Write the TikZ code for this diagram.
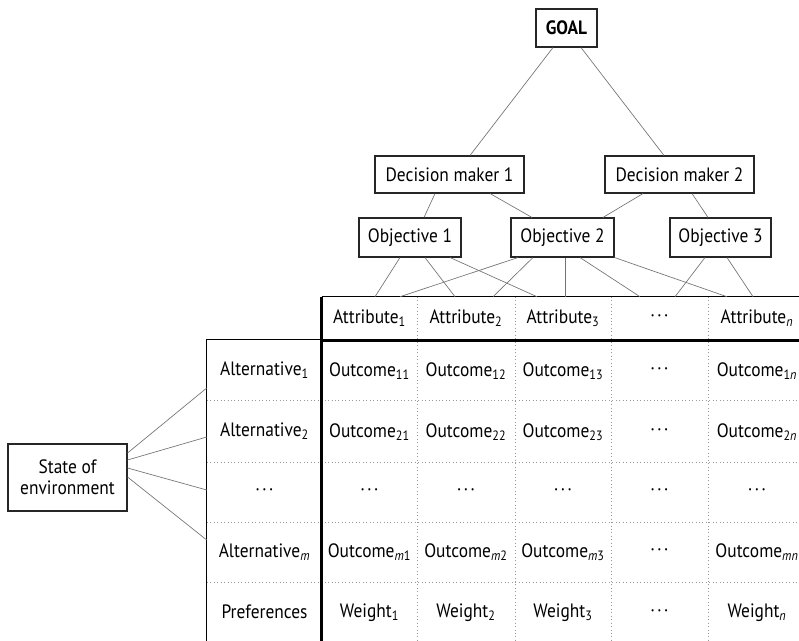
\documentclass[tikz,border=0pt]{standalone}
\usepackage{fontspec}
\setmainfont[FakeStretch=0.9]{PT Sans}
\newdimen\px \px=0.75pt
\newcommand{\dotsep}{\hspace{1.6pt}}
\newcommand{\mydots}{·\dotsep·\dotsep·}
\begin{document}
\begin{tikzpicture}[x=0.75pt,y=-0.75pt,
  txt/.style={font=\fontsize{14.5}{16}\selectfont},
  box/.style={txt,draw=black!85,line width=0.8pt,inner sep=0pt,align=center},
  cell/.style={txt,inner sep=0pt,minimum height=40\px},
  conn/.style={draw=black!55,line width=0.5pt},
  sep/.style={draw=black!40,dotted,line width=0.6pt},
  thick rule/.style={draw=black,line width=2.3pt},
  rule/.style={draw=black,line width=1pt}]
\useasboundingbox (0,0) rectangle (799,641);
% hierarchy boxes
\node[box,minimum width=61\px,minimum height=38\px,font=\fontsize{14.5}{16}\selectfont\bfseries] (goal) at (566.5,28) {GOAL};
\node[box,minimum width=149\px,minimum height=37\px] (dm1) at (449.5,174.5) {Decision maker 1};
\node[box,minimum width=149\px,minimum height=37\px] (dm2) at (679.5,174.5) {Decision maker 2};
\node[box,minimum width=102\px,minimum height=39\px] (ob1) at (410,237.5) {Objective 1};
\node[box,minimum width=103\px,minimum height=39\px] (ob2) at (562.5,237.5) {Objective 2};
\node[box,minimum width=101\px,minimum height=39\px] (ob3) at (720.5,237.5) {Objective 3};
\node[box,minimum width=119\px,minimum height=67\px] (env) at (67.5,477.5) {State of\\environment};
% header cells
\node[cell,minimum width=95\px,minimum height=43\px] (a1) at (369.5,318.5) {Attribute\textsubscript{1}};
\node[cell,minimum width=98\px,minimum height=43\px] (a2) at (466,318.5) {Attribute\textsubscript{2}};
\node[cell,minimum width=96\px,minimum height=43\px] (a3) at (563,318.5) {Attribute\textsubscript{3}};
\node[cell,minimum width=97\px,minimum height=43\px] (a4) at (659.5,318.5) {\mydots};
\node[cell,minimum width=98\px,minimum height=43\px] (a5) at (757,318.5) {Attribute\textsubscript{\textit{n}}};
% left column cells
\node[cell,minimum width=115\px,minimum height=60\px] (l1) at (264.5,370) {Alternative\textsubscript{1}};
\node[cell,minimum width=115\px,minimum height=62\px] (l2) at (264.5,431) {Alternative\textsubscript{2}};
\node[cell,minimum width=115\px,minimum height=60\px] (l3) at (264.5,492) {\mydots};
\node[cell,minimum width=115\px,minimum height=60\px] (l4) at (264.5,552) {Alternative\textsubscript{\textit{m}}};
\node[cell,minimum width=115\px,minimum height=60\px] (l5) at (264.5,612) {Preferences};
% body cells
\node[cell] (c11) at (369.5,371) {Outcome\textsubscript{11}};
\node[cell] (c12) at (466,371) {Outcome\textsubscript{12}};
\node[cell] (c13) at (563,371) {Outcome\textsubscript{13}};
\node[cell] (c14) at (659.5,371) {\mydots};
\node[cell] (c15) at (757,371) {Outcome\textsubscript{1\textit{n}}};
\node[cell] (c21) at (369.5,432) {Outcome\textsubscript{21}};
\node[cell] (c22) at (466,432) {Outcome\textsubscript{22}};
\node[cell] (c23) at (563,432) {Outcome\textsubscript{23}};
\node[cell] (c24) at (659.5,432) {\mydots};
\node[cell] (c25) at (757,432) {Outcome\textsubscript{2\textit{n}}};
\node[cell] (c31) at (369.5,492) {\mydots};
\node[cell] (c32) at (466,492) {\mydots};
\node[cell] (c33) at (563,492) {\mydots};
\node[cell] (c34) at (659.5,492) {\mydots};
\node[cell] (c35) at (757,492) {\mydots};
\node[cell] (c41) at (369.5,552) {Outcome\textsubscript{\textit{m}1}};
\node[cell] (c42) at (466,552) {Outcome\textsubscript{\textit{m}2}};
\node[cell] (c43) at (563,552) {Outcome\textsubscript{\textit{m}3}};
\node[cell] (c44) at (659.5,552) {\mydots};
\node[cell] (c45) at (757,552) {Outcome\textsubscript{\textit{mn}}};
\node[cell] (c51) at (369.5,613) {Weight\textsubscript{1}};
\node[cell] (c52) at (466,613) {Weight\textsubscript{2}};
\node[cell] (c53) at (563,613) {Weight\textsubscript{3}};
\node[cell] (c54) at (659.5,613) {\mydots};
\node[cell] (c55) at (757,613) {Weight\textsubscript{\textit{n}}};
% dotted separators
\foreach \r in {l1,l2,l3,l4}
  \draw[sep] (\r.south west) -- (\r.south west -| a5.east);
\foreach \c in {a1,a2,a3,a4}
  \draw[sep] (\c.north east) -- (\c.north east |- l5.south);
% table rules
\draw[rule] (a1.north west) -- (a5.north east);
\draw[rule] (l5.south west) -- (l1.north west) -- (l1.north east);
\draw[thick rule] (a1.south west) -- (a5.south east);
\draw[thick rule] (a1.north west) -- (a1.north west |- l5.south);
% connectors
\draw[conn] ([xshift=-13.5\px]goal.south) -- ([xshift=20.5\px]dm1.north);
\draw[conn] ([xshift=14.5\px]goal.south) -- ([xshift=-15.5\px]dm2.north);
\draw[conn] ([xshift=-14.5\px]dm1.south) -- ([xshift=14\px]ob1.north);
\draw[conn] ([xshift=40.5\px]dm1.south) -- ([xshift=-30.5\px]ob2.north);
\draw[conn] ([xshift=-36.5\px]dm2.south) -- ([xshift=40.5\px]ob2.north);
\draw[conn] ([xshift=12.5\px]dm2.south) -- ([xshift=-12.5\px]ob3.north);
\draw[conn] ([xshift=-10\px]ob1.south) -- ([xshift=5.5\px]a1.north);
\draw[conn] ([xshift=15\px]ob1.south) -- ([xshift=-11\px]a2.north);
\draw[conn] ([xshift=40\px]ob1.south) -- ([xshift=-26\px]a3.north);
\draw[conn] ([xshift=-44.5\px]ob2.south) -- ([xshift=30.5\px]a1.north);
\draw[conn] ([xshift=-29.5\px]ob2.south) -- ([xshift=27\px]a2.north);
\draw[conn] ([xshift=2.5\px]ob2.south) -- ([xshift=2\px]a3.north);
\draw[conn] ([xshift=17.5\px]ob2.south) -- ([xshift=-19.5\px]a4.north);
\draw[conn] (ob2.south east) -- ([xshift=-30\px]a5.north);
\draw[conn] ([xshift=-15.5\px]ob3.south) -- ([xshift=15.5\px]a4.north);
\draw[conn] ([xshift=6.5\px]ob3.south) -- ([xshift=-4\px]a5.north);
\draw[conn] ([yshift=24.5\px]env.east) -- ([yshift=-18\px]l1.west);
\draw[conn] ([yshift=17.5\px]env.east) -- ([yshift=-6\px]l2.west);
\draw[conn] ([yshift=9.5\px]env.east) -- ([yshift=2\px]l3.west);
\draw[conn] ([yshift=0.5\px]env.east) -- ([yshift=12\px]l4.west);
\end{tikzpicture}
\end{document}
